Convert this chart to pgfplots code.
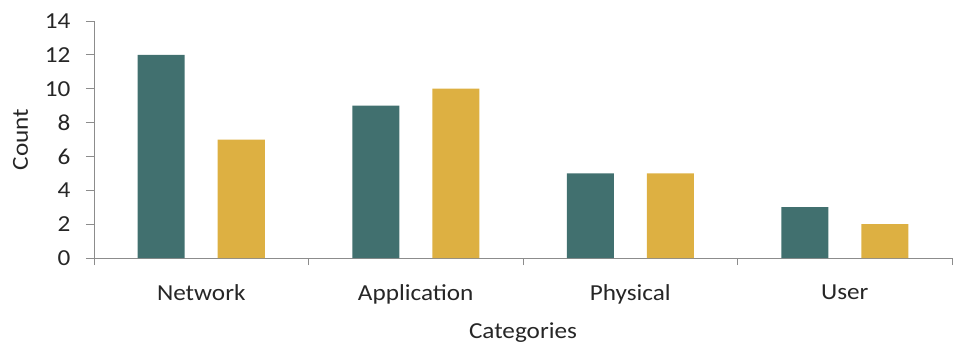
\documentclass[border=0pt]{standalone}
\usepackage{pgfplots}
\pgfplotsset{compat=1.18}
\usepackage{fontspec}
\setmainfont{Carlito}[FakeStretch=1.1]

\definecolor{serA}{HTML}{41706F}
\definecolor{serB}{HTML}{DDB042}
\definecolor{axgray}{HTML}{8C8C8C}

\begin{document}
\begin{tikzpicture}
\begin{axis}[
  scale only axis,
  width=858bp, height=237bp,
  at={(0,0)}, anchor=south west,
  xmin=-0.5, xmax=3.5, ymin=0, ymax=14,
  axis x line*=bottom, axis y line*=left,
  axis line style={axgray, line width=0.9pt},
  tick style={axgray, line width=0.9pt},
  tick align=outside,
  major tick length=8bp, minor tick length=7bp,
  ytick={0,2,...,14},
  xtick={0,1,2,3},
  xticklabels={Network,Application,Physical,User},
  minor xtick={-0.5,0.5,1.5,2.5,3.5},
  major x tick style={draw=none},
  /pgf/number format/assume math mode=true,
  ticklabel style={font=\fontsize{23}{25}\selectfont, text=black!85},
  yticklabel style={xshift=-12bp},
  xticklabel style={yshift=-15bp},
  xlabel={Categories}, ylabel={Count},
  label style={font=\fontsize{23}{25}\selectfont, text=black!85},
  xlabel style={yshift=-12bp},
  ylabel style={yshift=10bp},
  ybar, bar width=47bp,
]
\addplot[fill=serA, draw=none, bar shift=-40bp] coordinates {(0,12) (1,9) (2,5) (3,3)};
\addplot[fill=serB, draw=none, bar shift=40bp] coordinates {(0,7) (1,10) (2,5) (3,2)};
\end{axis}
\useasboundingbox (-94bp,-83bp) rectangle (859bp,258bp);
\end{tikzpicture}
\end{document}
